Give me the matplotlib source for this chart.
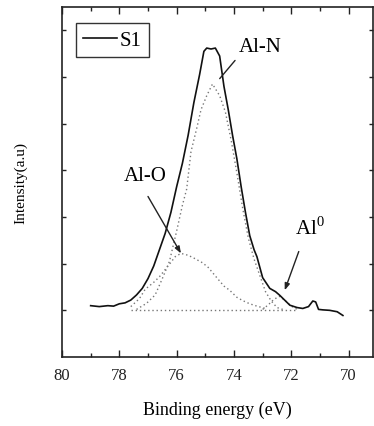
import matplotlib
matplotlib.use("Agg")
import matplotlib.pyplot as plt

plt.rcParams["font.family"] = ["Liberation Serif", "DejaVu Serif"]
plt.rcParams["mathtext.fontset"] = "custom"
plt.rcParams["mathtext.rm"] = "Liberation Serif"

sum_energy = [79.0, 78.7, 78.4, 78.2, 78.0, 77.8, 77.6, 77.4, 77.2, 77.0,
              76.8, 76.6, 76.4, 76.2, 76.0, 75.8, 75.6, 75.4, 75.2, 75.05,
              74.95, 74.8, 74.65, 74.5, 74.35, 74.2, 74.05, 73.9, 73.75, 73.6,
              73.45, 73.3, 73.2, 73.0, 72.75, 72.55, 72.4, 72.2, 72.05, 71.8,
              71.6, 71.4, 71.25, 71.15, 71.05, 70.9, 70.66, 70.4, 70.2]
sum_int = [0.10, 0.08, 0.10, 0.09, 0.14, 0.16, 0.22, 0.33, 0.47, 0.68,
           0.95, 1.30, 1.65, 2.10, 2.65, 3.15, 3.75, 4.45, 5.05, 5.55,
           5.62, 5.60, 5.62, 5.45, 4.80, 4.30, 3.75, 3.25, 2.65, 2.10,
           1.60, 1.30, 1.15, 0.70, 0.47, 0.40, 0.32, 0.20, 0.11, 0.06,
           0.04, 0.08, 0.20, 0.18, 0.02, 0.01, 0.00, -0.03, -0.11]

aln_energy = [77.4, 77.05, 76.75, 76.5, 76.25, 76.0, 75.8, 75.65, 75.5, 75.3,
              75.15, 74.95, 74.75, 74.5, 74.3, 74.1, 73.9, 73.7, 73.5, 73.3,
              73.1, 72.9, 72.7, 72.5, 72.3]
aln_int = [0.02, 0.15, 0.33, 0.68, 1.05, 1.70, 2.25, 2.60, 3.40, 3.90,
           4.30, 4.60, 4.85, 4.60, 4.25, 3.65, 2.95, 2.20, 1.55, 1.10,
           0.75, 0.40, 0.20, 0.06, 0.02]

alo_energy = [77.6, 77.3, 77.1, 76.8, 76.6, 76.3, 76.05, 75.85, 75.6, 75.4,
              75.1, 74.9, 74.6, 74.35, 74.15, 73.9, 73.7, 73.45, 73.2, 72.9]
alo_int = [0.08, 0.25, 0.45, 0.60, 0.72, 0.95, 1.15, 1.22, 1.18, 1.12,
           1.02, 0.92, 0.70, 0.52, 0.43, 0.28, 0.21, 0.14, 0.09, 0.04]

al0_energy = [73.0, 72.8, 72.6, 72.4, 72.2, 72.0, 71.8]
al0_int = [0.02, 0.12, 0.24, 0.30, 0.20, 0.09, 0.02]

base_energy = [77.6, 71.8]
base_int = [0.0, 0.0]

x_ticks = [80, 78, 76, 74, 72, 70]

fig = plt.figure(figsize=(3.74, 4.27), dpi=100)
ax = fig.add_axes([62 / 374, 1 - 358 / 427, 311 / 374, 350 / 427])

dot = dict(color="#777777", linewidth=1.0, linestyle=(0, (1, 2)))
ax.plot(base_energy, base_int, **dot)
ax.plot(aln_energy, aln_int, **dot)
ax.plot(alo_energy, alo_int, **dot)
ax.plot(al0_energy, al0_int, **dot)
ax.plot(sum_energy, sum_int, color="#111111", linewidth=1.2, label="S1")

ax.set_xlim(80, 69.15)
ax.set_ylim(-1, 6.5)
ax.set_xticks(x_ticks)
ax.set_xticks(range(70, 81), minor=True)
ax.set_yticks(range(0, 7))
ax.set_yticklabels([])
ax.tick_params(which="both", direction="in", top=True, right=True,
               width=1.0, color="#222222")
ax.tick_params(which="major", length=5, labelsize=12, pad=7,
               labelcolor="#222222")
ax.tick_params(which="minor", length=3)
ax.tick_params(axis="y", which="major", length=3)
for sp in ax.spines.values():
    sp.set_linewidth(1.2)
    sp.set_color("#222222")

ax.set_xlabel("Binding energy (eV)", fontsize=13, labelpad=13)
ax.set_ylabel("Intensity(a.u)", fontsize=11, labelpad=18)

# peak labels and pointers
ax.text(73.1, 5.65, "Al-N", fontsize=15, ha="center", va="center")
ax.text(77.1, 2.89, "Al-O", fontsize=15, ha="center", va="center")
ax.text(71.36, 1.78, r"Al$^{\mathrm{0}}$", fontsize=15, ha="center", va="center")
ax.annotate("", xy=(74.56, 4.92), xytext=(73.9, 5.4),
            arrowprops=dict(arrowstyle="-", color="#222222", lw=1.0))
ax.annotate("", xy=(75.85, 1.22), xytext=(77.0, 2.44),
            arrowprops=dict(arrowstyle="-|>,head_length=0.4,head_width=0.15",
                            color="#222222", lw=1.0, shrinkA=0, shrinkB=0))
ax.annotate("", xy=(72.23, 0.43), xytext=(71.74, 1.26),
            arrowprops=dict(arrowstyle="-|>,head_length=0.4,head_width=0.15",
                            color="#222222", lw=1.0, shrinkA=0, shrinkB=0))

leg = ax.legend(loc="upper left", bbox_to_anchor=(0.045, 0.954),
                borderaxespad=0, fontsize=15, handlelength=1.6,
                handletextpad=0.15, borderpad=0.35, fancybox=False,
                edgecolor="#333333", framealpha=1)
leg.get_frame().set_linewidth(1.0)

fig.savefig("out.png", dpi=100)
